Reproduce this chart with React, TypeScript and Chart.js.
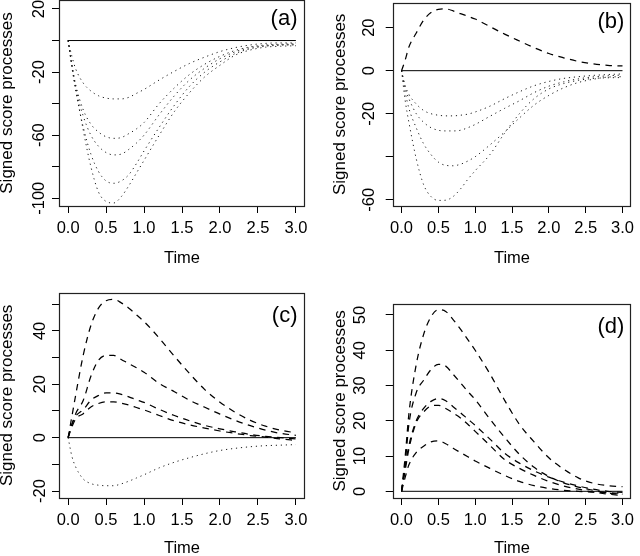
import React, { useEffect, useRef } from 'react';
import { Chart, registerables } from 'chart.js';

Chart.register(...registerables);

const FONT = "'Liberation Sans', Arial, Helvetica, sans-serif";

// ---------- data ----------
const TIME = [0, 0.05, 0.1, 0.2, 0.3, 0.4, 0.5, 0.6, 0.7, 0.8, 0.9, 1.0, 1.2, 1.4, 1.6, 1.8, 2.0, 2.2, 2.4, 2.6, 2.8, 3.0];
const ZERO_TIME = [0, 3];
const ZERO_VALUES = [0, 0];

// panel (a)
const A_DOT_1 = [0, -10, -18, -27, -32, -35, -36.5, -37, -37, -36, -33.5, -31, -25, -19.5, -14.5, -10.5, -7, -4.5, -2.8, -1.8, -1.5, -1.5];
const A_DOT_2 = [0, -15, -28, -44, -53, -58, -61, -62, -61.5, -59, -56, -52, -40, -30, -21.5, -15, -10, -6.3, -4, -2.8, -2.3, -2];
const A_DOT_3 = [0, -16, -30, -48, -60, -67, -71, -72.5, -72, -69, -65, -60, -47, -35, -25, -17.5, -11.5, -7.2, -4.5, -3.2, -2.6, -2.3];
const A_DOT_4 = [0, -17, -32, -55, -72, -83, -89, -90.5, -89, -85, -78, -70, -55, -41, -29, -20, -13.5, -8.3, -5.2, -3.6, -3, -2.8];
const A_DOT_5 = [0, -16, -30, -57, -80, -96, -102, -103, -99, -92, -84, -76, -60, -45, -33, -23, -15.7, -9.3, -6, -4.2, -3.6, -3.3];
const A_Y_LABELS = [20, -20, -60, -100];

// panel (b)
const B_DASH = [0, 5, 11, 17.5, 23.5, 27, 28.5, 28.7, 27.8, 26.5, 25.3, 24, 20.5, 17, 13.8, 10.7, 8, 6, 4.3, 3.2, 2.5, 2.2];
const B_DOT_1 = [0, -7, -11, -15.5, -18.5, -20, -20.7, -21, -21, -20.7, -20.2, -19.2, -16.5, -13, -9.8, -7, -5, -3.6, -2.8, -2.2, -1.8, -1.5];
const B_DOT_2 = [0, -8, -13, -20, -24, -26.5, -27.7, -28, -28, -27.7, -26.5, -25, -21.2, -17.5, -14, -10.2, -7.2, -5.2, -3.8, -2.9, -2.4, -2];
const B_DOT_3 = [0, -10, -17.5, -26.6, -34, -39, -42.5, -44, -44.2, -43.5, -42, -40, -34.5, -28.5, -22, -16, -11.5, -8, -5.5, -4, -3, -2.8];
const B_DOT_4 = [0, -14, -24, -41, -53, -58.5, -60.3, -60.2, -58.5, -55, -50.5, -46.5, -39, -29, -20, -13, -8.5, -6, -4.5, -3.6, -3.3, -3.2];
const B_Y_LABELS = [20, 0, -20, -60];

// panel (c)
const C_DASH_1 = [0, 8, 16, 31, 42, 48.5, 51.3, 51.8, 50.5, 48.5, 46, 43.5, 37.3, 30.5, 24, 18, 13.3, 9.5, 6.5, 4.3, 2.8, 1.8];
const C_DASH_2 = [0, 5, 9, 14, 23, 29, 30.8, 30.8, 29.3, 27.7, 26.2, 24.5, 20.3, 17.2, 14, 11.4, 8.8, 6.5, 4.5, 2.8, 1.6, 0.9];
const C_DASH_3 = [0, 5, 8, 10.5, 14, 15.8, 16.8, 16.8, 16.2, 15.3, 14.2, 13.2, 10.6, 8.3, 6.3, 4.6, 3.3, 2.2, 1.2, 0.5, 0, -0.5];
const C_DASH_4 = [0, 4, 7, 9, 11.5, 12.8, 13.4, 13.4, 12.9, 12.2, 11.3, 10.4, 8.3, 6.3, 4.8, 3.6, 2.5, 1.6, 0.8, 0.2, -0.5, -1];
const C_DOT = [0, -7, -11, -15.5, -17.2, -17.8, -18, -18, -17.3, -16.3, -15.1, -13.9, -11.3, -9.2, -7.5, -6, -4.8, -4, -3.4, -3, -2.8, -2.6];
const C_Y_LABELS = [40, 20, 0, -20];

// panel (d)
const D_DASH_1 = [0, 10, 22, 36, 44.5, 49.5, 51.5, 51, 48.7, 46, 43, 40, 33.3, 25.8, 19, 14, 9.5, 6.3, 3.8, 2.3, 1.6, 1.3];
const D_DASH_2 = [0, 8, 19, 28, 31.5, 34.5, 36, 35.5, 33.2, 30.8, 28.3, 26, 20.5, 15.3, 10.5, 6.8, 4.2, 2.4, 1.2, 0.3, -0.5, -0.8];
const D_DASH_3 = [0, 7, 13, 20, 23.5, 25.5, 26.3, 25.7, 24, 22.3, 20.5, 18.7, 14.8, 10.8, 8, 5.8, 4, 2.6, 1.5, 0.6, 0, -0.3];
const D_DASH_4 = [0, 6, 12, 19.5, 22.5, 24.2, 24.4, 23.5, 22.2, 20.8, 19, 17, 13, 9, 6.5, 4.5, 2.8, 1.5, 0.6, -0.2, -0.8, -1.2];
const D_DASH_5 = [0, 4, 7.5, 11, 12.8, 14, 14.3, 13.5, 12.2, 11, 9.8, 8.6, 6.5, 4.5, 2.8, 1.6, 0.8, 0.3, 0, -0.2, -0.4, -0.6];
const D_Y_LABELS = [0, 10, 20, 30, 40, 50];

const X_LABEL = 'Time';
const Y_LABEL = 'Signed score processes';

// ---------- panel configs ----------
type Style = 'dot' | 'dash';
interface PanelCfg {
  tag: string;
  dots: number[][];
  dashes: number[][];
  yMin: number; yMax: number; yStep: number; yLabels: number[];
  left: number; top: number; w: number; h: number;
  padTop: number; padRight: number; yAxisWidth: number; xAxisHeight: number;
  yTickPad: number; yTitlePad: number; tagDy: number; tagDx: number;
}

const PANELS: PanelCfg[] = [
  { tag: '(a)', dots: [A_DOT_1, A_DOT_2, A_DOT_3, A_DOT_4, A_DOT_5], dashes: [],
    yMin: -104.9, yMax: 25.7, yStep: 20, yLabels: A_Y_LABELS,
    left: -4, top: -12, w: 324, h: 290, padTop: 12, padRight: 15, yAxisWidth: 63, xAxisHeight: 72,
    yTickPad: -3.5, yTitlePad: 0.8, tagDy: 19, tagDx: 7.5 },
  { tag: '(b)', dots: [B_DOT_1, B_DOT_2, B_DOT_3, B_DOT_4], dashes: [B_DASH],
    yMin: -62.9, yMax: 31.6, yStep: 20, yLabels: B_Y_LABELS,
    left: 320, top: -12, w: 320, h: 290, padTop: 12, padRight: 1, yAxisWidth: 72.7, xAxisHeight: 72,
    yTickPad: 4.8, yTitlePad: 10.1, tagDy: 19, tagDx: 7 },
  { tag: '(c)', dots: [C_DOT], dashes: [C_DASH_1, C_DASH_2, C_DASH_3, C_DASH_4],
    yMin: -22.6, yMax: 54.3, yStep: 10, yLabels: C_Y_LABELS,
    left: -4, top: 278, w: 324, h: 290, padTop: 14.7, padRight: 15, yAxisWidth: 63, xAxisHeight: 70,
    yTickPad: -0.4, yTitlePad: 0.8, tagDy: 22.8, tagDx: 7.5 },
  { tag: '(d)', dots: [], dashes: [D_DASH_1, D_DASH_2, D_DASH_3, D_DASH_4, D_DASH_5],
    yMin: -1.9, yMax: 53.2, yStep: 10, yLabels: D_Y_LABELS,
    left: 320, top: 278, w: 320, h: 290, padTop: 14.7, padRight: 1, yAxisWidth: 72.7, xAxisHeight: 70,
    yTickPad: 15.8, yTitlePad: 10.1, tagDy: 22.8, tagDx: 7 },
];

function toPoints(xs: number[], ys: number[]) {
  return xs.map((x, i) => ({ x, y: ys[i] }));
}

function lineDataset(values: number[], style: Style) {
  return {
    data: toPoints(TIME, values),
    borderColor: style === 'dot' ? '#1c1c1c' : '#000',
    borderWidth: style === 'dot' ? 1 : 1.25,
    borderDash: style === 'dot' ? [1.2, 3.8] : [6.5, 5.5],
    pointRadius: 0,
    fill: false,
    cubicInterpolationMode: 'monotone' as const,
  };
}

function Panel({ cfg }: { cfg: PanelCfg }) {
  const ref = useRef<HTMLCanvasElement>(null);
  useEffect(() => {
    const canvas = ref.current;
    if (!canvas) return;
    const tickFont = { size: 16.5, family: FONT };
    const boxPlugin = {
      id: 'boxAndTag',
      afterDatasetsDraw(chart: any) {
        const { ctx, chartArea } = chart;
        const l = Math.round(chartArea.left) + 0.5;
        const t = Math.round(chartArea.top) + 0.5;
        const r = Math.round(chartArea.right) - 0.5;
        const b = Math.round(chartArea.bottom) + 0.5;
        ctx.save();
        ctx.strokeStyle = '#222';
        ctx.lineWidth = 1.2;
        ctx.setLineDash([]);
        ctx.strokeRect(l, t, r - l, b - t);
        ctx.fillStyle = '#000';
        ctx.font = `22px ${FONT}`;
        ctx.textAlign = 'right';
        ctx.textBaseline = 'middle';
        ctx.fillText(cfg.tag, chartArea.right - cfg.tagDx, chartArea.top + cfg.tagDy);
        ctx.restore();
      },
    };
    const datasets = [
      {
        data: toPoints(ZERO_TIME, ZERO_VALUES),
        borderColor: '#000',
        borderWidth: 1,
        pointRadius: 0,
        fill: false,
      },
      ...cfg.dashes.map((v) => lineDataset(v, 'dash')),
      ...cfg.dots.map((v) => lineDataset(v, 'dot')),
    ];
    const chart = new Chart(canvas, {
      type: 'line',
      data: { datasets } as any,
      options: {
        animation: false,
        responsive: false,
        maintainAspectRatio: false,
        events: [],
        layout: { padding: { left: 0, right: cfg.padRight, top: cfg.padTop, bottom: 0 } },
        plugins: {
          legend: { display: false },
          tooltip: { enabled: false },
          title: { display: false },
        },
        scales: {
          x: {
            type: 'linear',
            min: -0.12,
            max: 3.12,
            afterFit: (s: any) => { s.height = cfg.xAxisHeight; },
            ticks: {
              stepSize: 0.5,
              autoSkip: false,
              includeBounds: false,
              maxRotation: 0,
              minRotation: 0,
              padding: 6,
              color: '#000',
              font: tickFont,
              callback: (v: any) => Number(v).toFixed(1),
            },
            grid: { drawOnChartArea: false, drawTicks: true, tickLength: 7, color: '#000', lineWidth: 1 },
            border: { display: false },
            title: {
              display: true,
              text: X_LABEL,
              color: '#000',
              font: tickFont,
              padding: { top: 0, bottom: 10.1 },
            },
          },
          y: {
            type: 'linear',
            min: cfg.yMin,
            max: cfg.yMax,
            afterFit: (s: any) => { s.width = cfg.yAxisWidth; },
            ticks: {
              stepSize: cfg.yStep,
              autoSkip: false,
              includeBounds: false,
              minRotation: 90,
              maxRotation: 90,
              crossAlign: 'center',
              padding: cfg.yTickPad,
              color: '#000',
              font: tickFont,
              callback: (v: any) =>
                cfg.yLabels.some((l) => Math.abs(l - Number(v)) < 1e-6) ? String(Math.round(Number(v))) : '',
            },
            grid: { drawOnChartArea: false, drawTicks: true, tickLength: 7, color: '#000', lineWidth: 1 },
            border: { display: false },
            title: {
              display: true,
              text: Y_LABEL,
              color: '#000',
              font: { size: 17, family: FONT },
              padding: { top: cfg.yTitlePad, bottom: 0 },
            },
          },
        },
      } as any,
      plugins: [boxPlugin],
    });
    return () => chart.destroy();
  }, [cfg]);
  return (
    <canvas
      ref={ref}
      width={cfg.w}
      height={cfg.h}
      style={{ position: 'absolute', left: cfg.left, top: cfg.top, width: cfg.w, height: cfg.h }}
    />
  );
}

export default function App() {
  return (
    <div
      style={{
        position: 'absolute',
        left: 0,
        top: 0,
        width: 640,
        height: 556,
        overflow: 'hidden',
        background: '#fff',
      }}
    >
      {PANELS.map((p) => (
        <Panel key={p.tag} cfg={p} />
      ))}
    </div>
  );
}
